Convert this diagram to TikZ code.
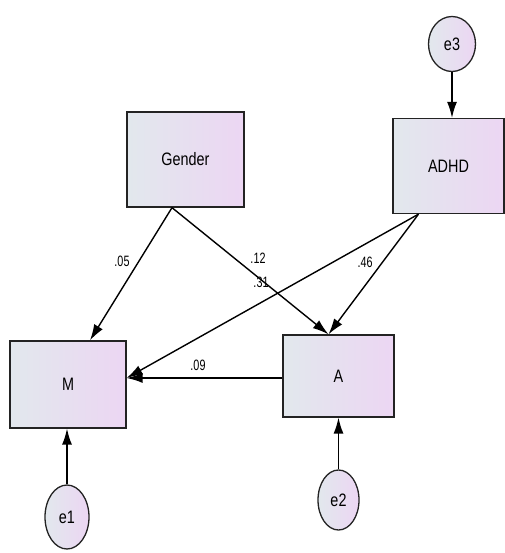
\documentclass[tikz,border=0pt]{standalone}
\usepackage{fontspec}
\setmainfont{Liberation Sans}[FakeStretch=0.8]
\newfontfamily\coeffont{Liberation Sans}[FakeStretch=0.72]
\usetikzlibrary{shapes.geometric,arrows.meta}
\definecolor{boxleft}{RGB}{226,232,237}
\definecolor{boxright}{RGB}{236,214,243}
\definecolor{edgegrey}{RGB}{35,35,35}

\begin{document}
\begin{tikzpicture}[x=1pt,y=-1pt,
		observed/.style={draw=edgegrey, line width=1.3pt, left color=boxleft, right color=boxright, inner sep=0pt, font=\fontsize{18}{18}\selectfont},
		errorvar/.style={observed, ellipse},
		effect/.style={line width=1.4pt, -{Latex[length=16pt,width=10pt]}},
		coef/.style={font=\coeffont\fontsize{15}{15}\selectfont, inner sep=0pt}]
		
		\useasboundingbox (0,0) rectangle (504,553);
		
		% Observed variables
		\node[observed, minimum width=117pt, minimum height=95pt] (gender) at (185.5,159.5) {Gender};
		\node[observed, minimum width=111pt, minimum height=95pt] (adhd) at (448.5,166) {ADHD};
		\node[observed, minimum width=116pt, minimum height=87pt] (m) at (68,384.5) {M};
		\node[observed, minimum width=111pt, minimum height=82pt] (a) at (338.5,376) {A};
		
		% Error terms
		\node[errorvar, minimum width=47pt, minimum height=55pt] (e3) at (452,44) {e3};
		\node[errorvar, minimum width=44pt, minimum height=64pt] (e1) at (67,517) {e1};
		\node[errorvar, minimum width=41pt, minimum height=60pt] (e2) at (338.5,500) {e2};
		
		% Paths
		\draw[effect] ([xshift=-13.5pt]gender.south) -- ([xshift=22pt]m.north);
		\draw[effect] ([xshift=-13.5pt]gender.south) -- ([xshift=-10pt]a.north);
		\draw[effect] ([xshift=-30pt]adhd.south) -- ([yshift=6.5pt]m.east);
		\draw[effect] ([xshift=-30pt]adhd.south) -- ([xshift=-10pt]a.north);
		\draw[effect] ([yshift=-2pt]a.west) -- ([yshift=6.5pt]m.east);
		\draw[effect] (e3.south) -- (e3.south |- adhd.north);
		\draw[effect] (e1.north) -- (e1.north |- m.south);
		\draw[effect] (e2.north) -- (e2.north |- a.south);
		
		% Coefficients
		\node[coef] (c05) at (122,261) {.05};
		\node[coef] (c12) at (258,258) {.12};
		\node[coef] (c31) at (261,282) {.31};
		\node[coef] (c46) at (365,262) {.46};
		\node[coef] (c09) at (198,365) {.09};
	\end{tikzpicture}
\end{document}
